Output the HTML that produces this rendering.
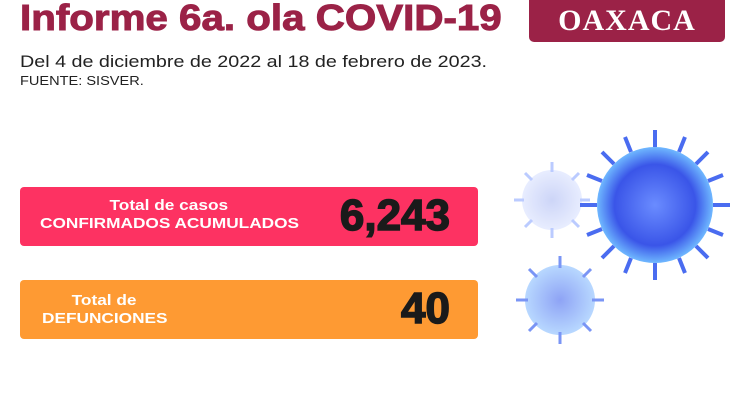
<!DOCTYPE html>
<html><head><style>
body{margin:0;width:745px;height:419px;background:#fff;position:relative;overflow:hidden;font-family:"Liberation Sans",sans-serif}
.t{position:absolute;left:20px;top:-3px;font-size:36px;font-weight:bold;color:#9b2247;white-space:nowrap;transform:scaleX(1.12);transform-origin:0 0;-webkit-text-stroke:1px #9b2247}
.ox{position:absolute;left:529px;top:-6px;width:196px;height:48px;background:#9b2247;border-radius:5px;color:#fff;font-family:"Liberation Serif",serif;font-weight:bold;font-size:30px;text-align:center;line-height:54px;letter-spacing:1px}
.s1{position:absolute;left:20px;top:52px;font-size:17px;color:#222;transform:scaleX(1.16);transform-origin:0 0;white-space:nowrap}
.s2{position:absolute;left:20px;top:73px;font-size:13px;color:#222;transform:scaleX(1.12);transform-origin:0 0}
.box{position:absolute;left:20px;width:458px;height:59px;border-radius:4px;color:#fff;font-weight:bold}
.lbl{position:absolute;font-size:15px;line-height:18px;transform:scaleX(1.15);transform-origin:0 0;white-space:nowrap}
.num{position:absolute;right:28px;top:4px;font-size:44px;color:#1a1a1a;font-weight:bold;-webkit-text-stroke:1.5px #1a1a1a}
</style></head><body>
<div class="t">Informe 6a. ola COVID-19</div>
<div class="ox">OAXACA</div>
<div class="s1">Del 4 de diciembre de 2022 al 18 de febrero de 2023.</div>
<div class="s2">FUENTE: SISVER.</div>
<div class="box" style="top:187px;background:#fd3262"><div class="lbl" style="left:20px;top:10px;text-align:center;width:224px">Total de casos<br>CONFIRMADOS ACUMULADOS</div><div class="num">6,243</div></div>
<div class="box" style="top:280px;background:#fe9a33"><div class="lbl" style="left:22px;top:12px;text-align:center;width:108px">Total de<br>DEFUNCIONES</div><div class="num">40</div></div>
<svg style="position:absolute;left:0;top:0" width="745" height="419">
<defs>
<radialGradient id="g1"><stop offset="0" stop-color="#6a8cff"/><stop offset="0.7" stop-color="#3a55e8"/><stop offset="1" stop-color="#6fb8ff"/></radialGradient>
<radialGradient id="g2"><stop offset="0" stop-color="#b8c4f5"/><stop offset="1" stop-color="#dfe6ff"/></radialGradient>
<radialGradient id="g3"><stop offset="0" stop-color="#8ea3f5"/><stop offset="1" stop-color="#b8d8ff"/></radialGradient>
</defs>
<g stroke="#9fb6ff" stroke-width="3" opacity="0.7"><circle cx="552" cy="200" r="30" fill="url(#g2)" stroke="none"/>
<path d="M552 162v10M552 228v10M514 200h10M580 200h10M525 173l7 7M579 227l-7-7M579 173l-7 7M525 227l7-7"/></g>
<g stroke="#7a95f5" stroke-width="3"><circle cx="560" cy="300" r="35" fill="url(#g3)" stroke="none"/>
<path d="M560 256v12M560 332v12M516 300h12M592 300h12M529 269l8 8M591 331l-8-8M591 269l-8 8M529 331l8-8"/></g>
<g stroke="#4a6cf0" stroke-width="4"><circle cx="655" cy="205" r="58" fill="url(#g1)" stroke="none"/>
<path d="M655 130v17M655 263v17M580 205h17M713 205h17M602 152l12 12M708 258l-12-12M708 152l-12 12M602 258l12-12M625 137l6 15M685 273l-6-15M685 137l-6 15M625 273l6-15M587 175l15 6M723 235l-15-6M723 175l-15 6M587 235l15-6"/></g>
</svg>
</body></html>
